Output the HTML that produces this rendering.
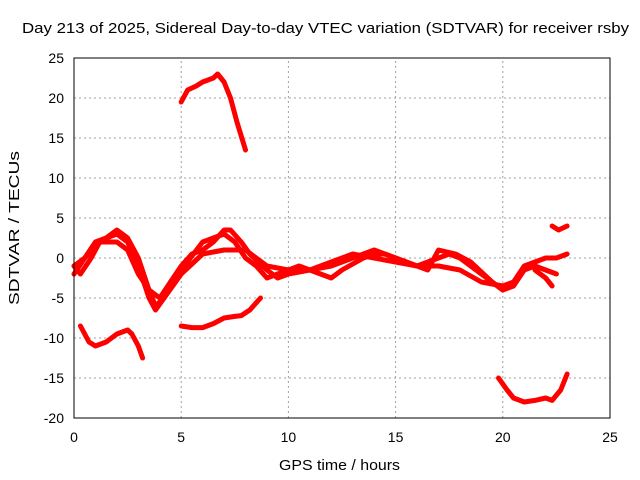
<!DOCTYPE html>
<html><head><meta charset="utf-8">
<style>
body{margin:0;background:#fff;}
svg{display:block;font-family:"Liberation Sans",sans-serif;}
</style></head>
<body>
<svg id="chart" width="640" height="480">
<text x="22" y="33" font-size="15" textLength="607" lengthAdjust="spacingAndGlyphs">Day 213 of 2025, Sidereal Day-to-day VTEC variation (SDTVAR) for receiver rsby</text>
<text x="279" y="470" font-size="15" textLength="121" lengthAdjust="spacingAndGlyphs">GPS time / hours</text>
<text x="0" y="0" font-size="15" textLength="154" lengthAdjust="spacingAndGlyphs" transform="translate(19 305) rotate(-90)">SDTVAR / TECUs</text>
<g id="grid"></g><g id="ticks"></g><g id="series"></g>
<rect x="74" y="58" width="536" height="360" fill="none" stroke="#000" stroke-width="1"/>
</svg>
<script>
const xTicks=[0,5,10,15,20,25];
const yTicks=[25,20,15,10,5,0,-5,-10,-15,-20];
const trackA=[[0,-1],[0.5,0],[1,1.5],[1.5,2.5],[2,3.5],[2.5,2.5],[3,0],[3.5,-4],[3.8,-6],[4.2,-5],[4.5,-3],[5,-1],[5.5,0.5],[6,1],[6.5,2],[7,3.5],[7.3,3.5],[7.8,2],[8.2,0.5],[8.6,-0.5],[9,-1.5],[9.5,-2.5],[10,-2],[11,-1.5],[12,-1],[13,0],[14,1],[15,0],[16,-1],[17,0],[17.5,0.5],[18,0],[18.5,-1],[19,-2],[20,-4],[20.5,-3.5],[21,-1.5],[21.5,-1],[22,-1.5],[22.5,-2]];
const trackB=[[0,-2],[1,2],[2,3],[2.5,2],[3,-1],[3.5,-5],[3.8,-6.5],[4.2,-5],[5,-2],[6,0.5],[7,1],[8,1],[9,-1],[10,-1.5],[11,-1.5],[12,-0.5],[13,0.5],[14,0],[15,-0.5],[16,-1],[17,-1],[18,-1.5],[19,-3],[20,-3.5],[20.5,-3],[21,-1],[21.5,-0.5],[22,0],[22.5,0],[23,0.5]];
const trackC=[[0,-1],[0.3,-2],[0.8,0],[1.2,2],[2,2],[2.5,1],[3,-2],[3.5,-4],[4,-5],[4.5,-3],[5,-1.5],[6,2],[6.5,2.5],[7,3],[7.5,2],[8,0],[8.5,-1],[9,-2.5],[9.5,-2],[10.5,-1],[11.5,-2],[12,-2.5],[12.5,-1.5],[13.5,0],[14,0.5],[14.5,0.5],[15.5,-0.5],[16.5,-1.5],[17,1],[17.8,0.5],[18.5,-0.5],[19.5,-3],[20,-4]];
const trackD=[[5,19.5],[5.3,21],[5.7,21.5],[6,22],[6.5,22.5],[6.7,23],[7,22],[7.3,20],[7.6,17],[8,13.5]];
const trackE=[[0.3,-8.5],[0.7,-10.5],[1,-11],[1.5,-10.5],[2,-9.5],[2.5,-9],[2.7,-9.5],[3,-11],[3.2,-12.5]];
const trackF=[[5,-8.5],[5.5,-8.7],[6,-8.7],[6.5,-8.2],[7,-7.5],[7.5,-7.3],[7.8,-7.2],[8.2,-6.5],[8.7,-5]];
const trackG=[[19.8,-15],[20.2,-16.5],[20.5,-17.5],[21,-18],[21.5,-17.8],[22,-17.5],[22.3,-17.8],[22.7,-16.5],[23,-14.5]];
const trackH=[[22.3,4],[22.6,3.5],[23,4]];
const trackI=[[21.5,-1.5],[22,-2.5],[22.3,-3.5]];
const allTracks=[trackA,trackB,trackC,trackD,trackE,trackF,trackG,trackH,trackI];
const X0=74,X1=610,Y0=418,Y1=58,xmin=0,xmax=25,ymin=-20,ymax=25;
const sx=v=>X0+(v-xmin)/(xmax-xmin)*(X1-X0);
const sy=v=>Y0-(v-ymin)/(ymax-ymin)*(Y0-Y1);
const NS="http://www.w3.org/2000/svg";
const grid=document.getElementById('grid'),ticks=document.getElementById('ticks'),ser=document.getElementById('series');
function mk(t,a,p){const e=document.createElementNS(NS,t);for(const k in a)e.setAttribute(k,a[k]);p.appendChild(e);return e;}
xTicks.forEach(v=>{
 const g=mk('line',{x1:sx(v),x2:sx(v),y1:Y0,y2:Y1,stroke:'#a0a0a0','stroke-dasharray':'2,3'},grid);
 
 
 const t=mk('text',{x:sx(v),y:Y0+24,'text-anchor':'middle','font-size':14},ticks);
 t.textContent=v;
 
 
});
yTicks.forEach(v=>{
 const g=mk('line',{x1:X0,x2:X1,y1:sy(v),y2:sy(v),stroke:'#a0a0a0','stroke-dasharray':'2,3'},grid);
 
 
 const t=mk('text',{x:X0-10,y:sy(v)+5,'text-anchor':'end','font-size':14},ticks);
 t.textContent=v;
 
 
});
allTracks.forEach(tr=>{
 const p=mk('polyline',{points:tr.map(d=>sx(d[0])+','+sy(d[1])).join(' '),fill:'none',stroke:'#ff0000','stroke-width':5,'stroke-linejoin':'round','stroke-linecap':'round'},ser);
 
 
});
</script>
</body></html>
